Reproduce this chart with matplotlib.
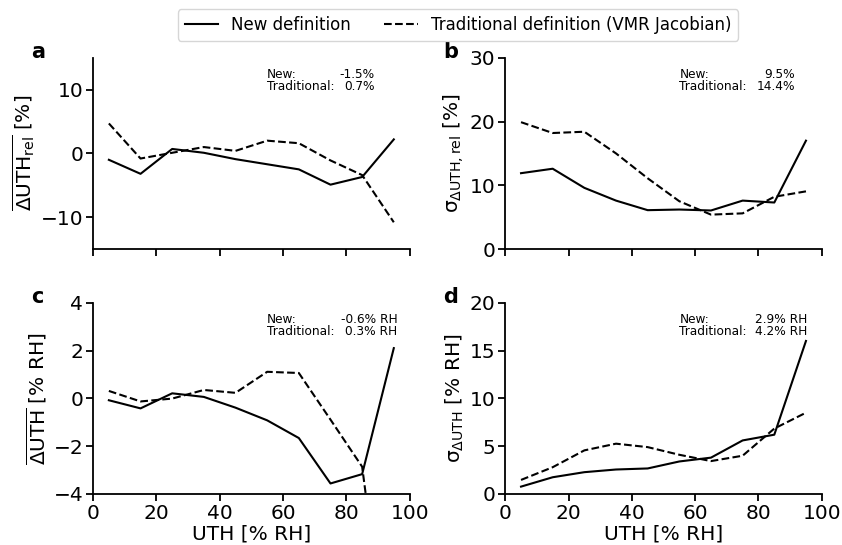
import numpy as np
import matplotlib
matplotlib.use("Agg")
import matplotlib.pyplot as plt

plt.rcParams["mathtext.default"] = "regular"

# UTH bin centres [% RH]
uth = [5, 15, 25, 35, 45, 55, 65, 75, 85, 95]

# a: mean relative difference [%]
a_new = [-1.0, -3.2, 0.7, 0.1, -0.9, -1.7, -2.5, -4.9, -3.7, 2.2]
a_trad = [4.7, -0.8, 0.1, 1.0, 0.4, 2.0, 1.6, -1.1, -3.4, -10.8]

# b: std of relative difference [%]
b_new = [11.9, 12.6, 9.6, 7.6, 6.1, 6.2, 6.05, 7.6, 7.3, 17.0]
b_trad = [19.9, 18.2, 18.4, 15.0, 11.1, 7.5, 5.4, 5.6, 8.2, 9.05]

# c: mean absolute difference [% RH]
c_new = [-0.08, -0.42, 0.21, 0.06, -0.39, -0.92, -1.66, -3.56, -3.17, 2.1]
c_trad = [0.31, -0.13, -0.01, 0.35, 0.23, 1.11, 1.06, -0.89, -2.86, -13.0]

# d: std of absolute difference [% RH]
d_new = [0.77, 1.75, 2.28, 2.56, 2.67, 3.4, 3.8, 5.6, 6.2, 16.0]
d_trad = [1.47, 2.8, 4.56, 5.26, 4.9, 4.1, 3.44, 4.0, 6.84, 8.5]

letters = ["a", "b", "c", "d"]
ylabels = [r"$\overline{\Delta UTH_{rel}}$ [%]",
           r"$\sigma_{\Delta UTH,rel}$ [%]",
           r"$\overline{\Delta UTH}$ [% RH]",
           r"$\sigma_{\Delta UTH}$ [% RH]"]
ylims = [(-15, 15), (0, 30), (-4, 4), (0, 20)]
yticks = [[-10, 0, 10], [0, 10, 20, 30], [-4, -2, 0, 2, 4], [0, 5, 10, 15, 20]]
new_stats = ["-1.5%", "9.5%", "-0.6% RH", "2.9% RH"]
trad_stats = ["0.7%", "14.4%", "0.3% RH", "4.2% RH"]
stat_right = [0.89, 0.915, 0.962, 0.955]

news = [a_new, b_new, c_new, d_new]
trads = [a_trad, b_trad, c_trad, d_trad]

fig = plt.figure(figsize=(8.42, 5.45), dpi=100)
positions = [[0.1105, 0.543, 0.376, 0.351],
             [0.600, 0.543, 0.376, 0.351],
             [0.1105, 0.0936, 0.376, 0.351],
             [0.600, 0.0936, 0.376, 0.351]]

for i in range(4):
    ax = fig.add_axes(positions[i])
    l1, = ax.plot(uth, news[i], color="black", lw=1.5, label="New definition")
    l2, = ax.plot(uth, trads[i], color="black", lw=1.5, ls="--",
                  label="Traditional definition (VMR Jacobian)")
    ax.set_xlim(0, 100)
    ax.set_ylim(*ylims[i])
    ax.set_xticks([0, 20, 40, 60, 80, 100])
    ax.set_yticks(yticks[i])
    ax.spines["top"].set_visible(False)
    ax.spines["right"].set_visible(False)
    for s in ["left", "bottom"]:
        ax.spines[s].set_linewidth(1.3)
    ax.tick_params(labelsize=14.5, width=1.3, length=5, pad=2)
    if i < 2:
        ax.set_xticklabels([])
    else:
        ax.set_xlabel("UTH [% RH]", fontsize=14.5, labelpad=1)
    ax.set_ylabel(ylabels[i], fontsize=14.5, labelpad=3)
    ax.text(-0.195, 1.0, letters[i], transform=ax.transAxes, fontsize=15,
            fontweight="bold", ha="left", va="baseline")
    ax.text(0.55, 0.945, "New:\nTraditional:", transform=ax.transAxes,
            fontsize=8.7, ha="left", va="top", linespacing=0.85)
    ax.text(stat_right[i], 0.945, new_stats[i] + "\n" + trad_stats[i],
            transform=ax.transAxes, fontsize=8.7, ha="right", va="top",
            linespacing=0.85)

fig.legend(handles=[l1, l2], loc="center", bbox_to_anchor=(0.544, 0.954),
           ncol=2, fontsize=12, frameon=True)

plt.savefig("out.png", dpi=100)
